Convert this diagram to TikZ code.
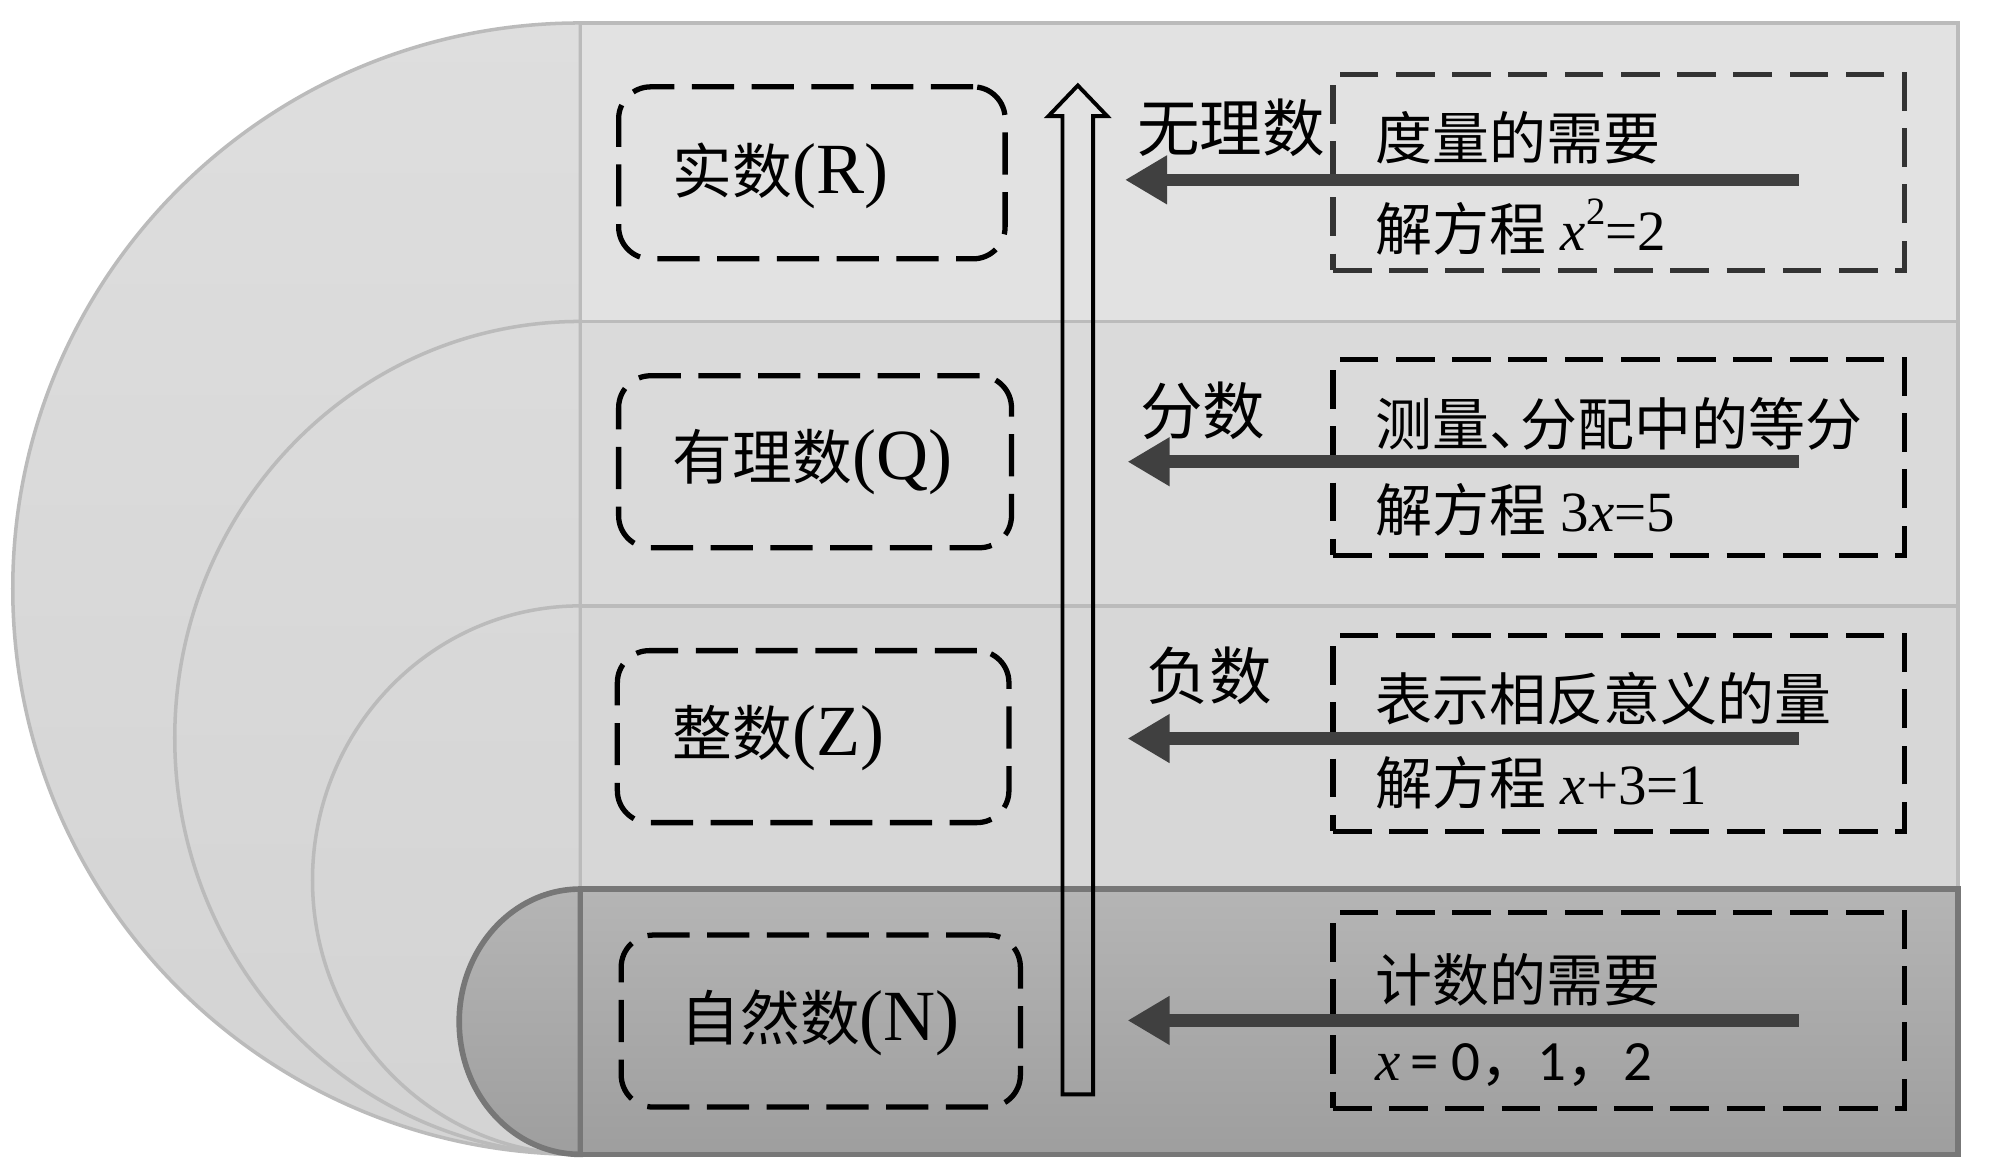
\documentclass[tikz,border=0pt]{standalone}
\usepackage{fontspec}
\setmainfont{Liberation Serif}
\newfontfamily\cjk{Noto Sans CJK SC}
\newfontfamily\calib{Carlito}
\usetikzlibrary{arrows.meta}
\definecolor{edgeL}{HTML}{BBBBBB}
\definecolor{edgeD}{HTML}{777777}
\definecolor{arrowgray}{HTML}{404040}
\newcommand\biglat[1]{{\fontsize{20.5}{22}\selectfont #1}}
\begin{document}
\begin{tikzpicture}[x=0.012755cm, y=-0.012755cm,
  lightedge/.style={draw=edgeL, line width=1pt},
  darkedge/.style={draw=edgeD, line width=1.6pt},
  lbox/.style={draw=black, line width=1.5pt, dash pattern=on 12pt off 5pt, rounded corners=0.32cm, minimum height=1.72cm},
  rbox/.style={draw=black, line width=1.5pt, dash pattern=on 11pt off 5pt, minimum width=5.714cm, minimum height=1.96cm},
  ltext/.style={anchor=west, inner sep=0pt, font=\fontsize{17}{20}\selectfont},
  rtext/.style={anchor=west, inner sep=0pt, font=\fontsize{16.2}{20}\selectfont},
  lab/.style={inner sep=0pt, font=\fontsize{17.8}{20}\selectfont},
  bigarrow/.style={draw=arrowgray, line width=3.6pt, -{Triangle[length=0.42cm, width=0.46cm]}}]
\useasboundingbox (0,0) rectangle (1568,918);
% layer 1
\path[lightedge, top color=white!87!black, bottom color=white!83!black] (455,18) arc[start angle=-90, end angle=-270, x radius=445, y radius=443.5] -- cycle;
\path[lightedge, fill=white!88.5!black] (455,18) rectangle (1535,905);
% layer 2
\path[lightedge, top color=white!86!black, bottom color=white!83!black] (455,252) arc[start angle=-90, end angle=-270, x radius=318, y radius=326.5] -- cycle;
\path[lightedge, fill=white!85.5!black] (455,252) rectangle (1535,905);
% layer 3
\path[lightedge, top color=white!85!black, bottom color=white!83!black] (455,475) arc[start angle=-90, end angle=-270, x radius=210, y radius=215] -- cycle;
\path[lightedge, fill=white!84.5!black] (455,475) rectangle (1535,905);
% layer 4
\path[darkedge, top color=white!71!black, bottom color=white!62!black] (455,697) arc[start angle=-90, end angle=-270, x radius=95, y radius=104] -- cycle;
\path[darkedge, top color=white!71!black, bottom color=white!62!black] (455,697) rectangle (1535,905);

% left boxes
\node[lbox, minimum width=3.865cm] (bR) at (636.5,135.5) {};
\node[lbox, minimum width=3.929cm] (bQ) at (639,362) {};
\node[lbox, minimum width=3.916cm] (bZ) at (637.5,577.5) {};
\node[lbox, minimum width=3.992cm] (bN) at (643.5,800.5) {};
\node[ltext] (tR) at (527,138) {{\cjk 实数}\biglat{(R)}};
\node[ltext] (tQ) at (527,362) {{\cjk 有理数}\biglat{(Q)}};
\node[ltext] (tZ) at (527,579) {{\cjk 整数}\biglat{(Z)}};
\node[ltext] (tN) at (533,802) {{\cjk 自然数}\biglat{(N)}};

% vertical hollow arrow
\draw[line width=1.1pt, line join=miter] (833,858) -- (833,91) -- (822,91) -- (845,67) -- (868,91) -- (857,91) -- (857,858) -- cycle;

% right boxes
\node[rbox, draw=black!80] (r1) at (1269,135) {};
\node[rbox] (r2) at (1269,358.5) {};
\node[rbox] (r3) at (1269,575) {};
\node[rbox] (r4) at (1269,792) {};
\node[rtext] (r1a) at (1078,108) {\cjk 度量的需要};
\node[rtext] (r1b) at (1078,178) {{\cjk 解方程} {\itshape x}\raisebox{0.45em}{\fontsize{11}{12}\selectfont 2}=2};
\node[rtext] (r2a) at (1078,332) {\cjk 测量、\kern-0.45em 分配中的等分};
\node[rtext] (r2b) at (1078,400) {{\cjk 解方程} 3{\itshape x}=5};
\node[rtext] (r3a) at (1078,548) {\cjk 表示相反意义的量};
\node[rtext] (r3b) at (1078,614) {{\cjk 解方程} {\itshape x}+3=1};
\node[rtext] (r4a) at (1078,768) {\cjk 计数的需要};
\node[rtext] (r4b) at (1078,835) {{\itshape x}\,{\calib = 0}{\cjk ，}{\calib 1}{\cjk ，}{\calib 2}};

% labels
\node[lab] (l1) at (965,100) {\cjk 无理数};
\node[lab] (l2) at (943,322) {\cjk 分数};
\node[lab] (l3) at (948,530) {\cjk 负数};

% thick arrows
\coordinate (s1) at (1410,141); \coordinate (e1) at (882,141);
\coordinate (s2) at (1410,362); \coordinate (e2) at (884,362);
\coordinate (s3) at (1410,579); \coordinate (e3) at (884,579);
\coordinate (s4) at (1410,800); \coordinate (e4) at (884,800);
\draw[bigarrow] (s1) -- (e1);
\draw[bigarrow] (s2) -- (e2);
\draw[bigarrow] (s3) -- (e3);
\draw[bigarrow] (s4) -- (e4);
\end{tikzpicture}
\end{document}
